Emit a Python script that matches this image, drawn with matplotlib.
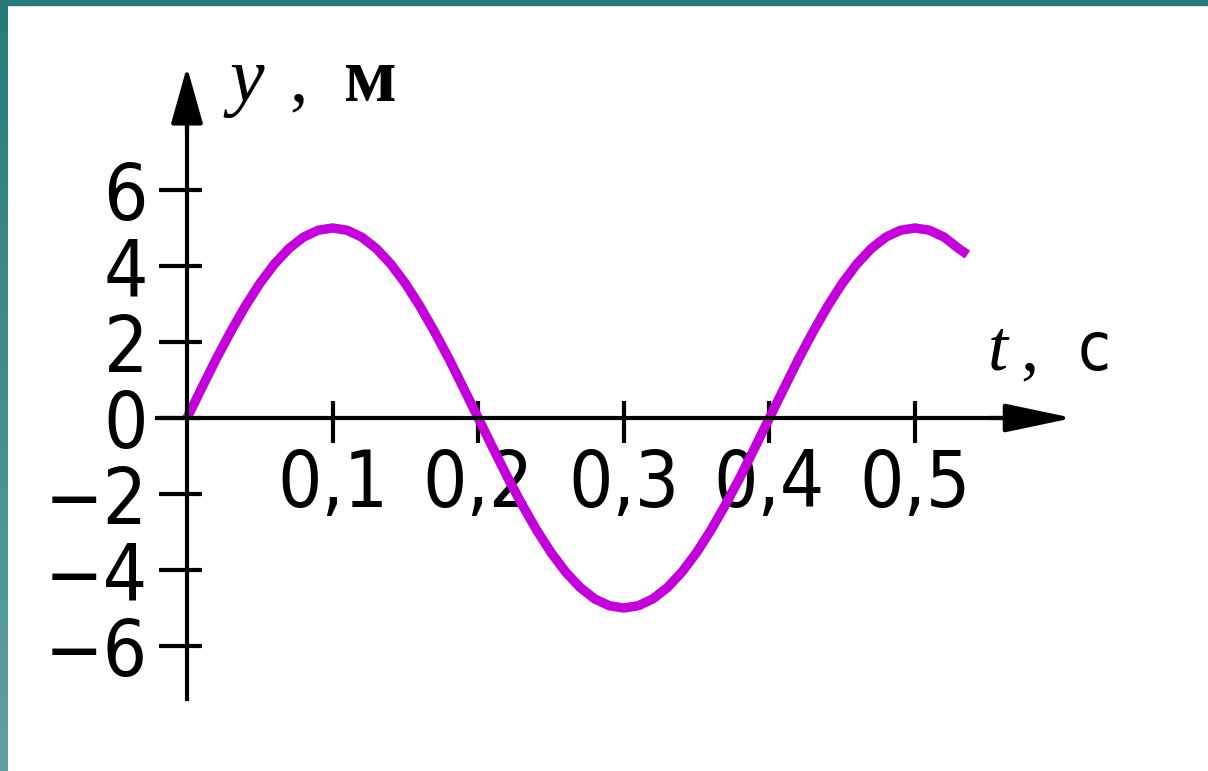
import matplotlib
matplotlib.use("Agg")
import matplotlib.pyplot as plt
import numpy as np

# values
t_pts = [0.00, 0.01, 0.02, 0.03, 0.04, 0.05, 0.06, 0.07, 0.08, 0.09,
         0.10, 0.11, 0.12, 0.13, 0.14, 0.15, 0.16, 0.17, 0.18, 0.19,
         0.20, 0.21, 0.22, 0.23, 0.24, 0.25, 0.26, 0.27, 0.28, 0.29,
         0.30, 0.31, 0.32, 0.33, 0.34, 0.35, 0.36, 0.37, 0.38, 0.39,
         0.40, 0.41, 0.42, 0.43, 0.44, 0.45, 0.46, 0.47, 0.48, 0.49,
         0.50, 0.51, 0.52, 0.53, 0.536]
y_pts = [0.00, 0.78, 1.55, 2.27, 2.94, 3.54, 4.05, 4.46, 4.76, 4.94,
         5.00, 4.94, 4.76, 4.46, 4.05, 3.54, 2.94, 2.27, 1.55, 0.78,
         0.00, -0.78, -1.55, -2.27, -2.94, -3.54, -4.05, -4.46, -4.76, -4.94,
         -5.00, -4.94, -4.76, -4.46, -4.05, -3.54, -2.94, -2.27, -1.55, -0.78,
         0.00, 0.78, 1.55, 2.27, 2.94, 3.54, 4.05, 4.46, 4.76, 4.94,
         5.00, 4.94, 4.76, 4.46, 4.30]

x_ticks = [0.1, 0.2, 0.3, 0.4, 0.5]
x_labels = ["0,1", "0,2", "0,3", "0,4", "0,5"]
y_ticks = [-6, -4, -2, 0, 2, 4, 6]
y_labels = ["\u22126", "\u22124", "\u22122", "0", "2", "4", "6"]

W, H = 1208, 771
fig = plt.figure(figsize=(W / 100, H / 100), dpi=100)
fig.patch.set_facecolor("white")

# slide frame (teal band top and left)
frame = fig.add_axes([0, 0, 8 / W, 1])
frame.imshow(np.linspace(0, 1, 50).reshape(-1, 1),
             cmap=matplotlib.colors.LinearSegmentedColormap.from_list("f", ["#5fa19f", "#277b7b"]),
             aspect="auto", extent=[0, 1, 0, 1], origin="lower")
frame.axis("off")
fig.patches.append(plt.Rectangle((0, 1 - 5 / H), 1, 5 / H, transform=fig.transFigure,
                                 color="#277b7b", zorder=5))

# axes: 0 at pixel (187, 418); 1456 px per s, 38 px per unit
ax = fig.add_axes([0, 0, 1, 1])
ax.set_facecolor("none")
ax.set_xlim(-187 / 1456, (W - 187) / 1456)
ax.set_ylim(-(H - 418) / 38, 418 / 38)

for s in ["top", "right"]:
    ax.spines[s].set_visible(False)
ax.spines["left"].set_position(("data", 0))
ax.spines["bottom"].set_position(("data", 0))
ax.spines["left"].set_bounds(-7.4, 8.0)
ax.spines["bottom"].set_bounds(-0.0206, 0.56)
ax.spines["left"].set_linewidth(3)
ax.spines["bottom"].set_linewidth(3)

ax.annotate("", xy=(0, 9.24), xytext=(0, 7.5),
            arrowprops=dict(arrowstyle="-|>,head_length=1.6,head_width=0.45", color="black",
                            lw=3, mutation_scale=22, shrinkA=0, shrinkB=0))
ax.annotate("", xy=(0.6085, 0), xytext=(0.55, 0),
            arrowprops=dict(arrowstyle="-|>,head_length=1.9,head_width=0.4", color="black",
                            lw=3, mutation_scale=22, shrinkA=0, shrinkB=0))

ax.plot(t_pts, y_pts, color="#c400da", lw=6.8, solid_capstyle="butt", solid_joinstyle="round")

tick_font = dict(family="DejaVu Sans", stretch="condensed", size=56)
ax.set_xticks(x_ticks)
ax.set_xticklabels(x_labels, fontdict=tick_font)
ax.set_yticks(y_ticks)
ax.set_yticklabels(y_labels, fontdict=tick_font)
ax.xaxis.remove_overlapping_locs = False
ax.yaxis.remove_overlapping_locs = False
ax.set_xticks(x_ticks, minor=True)
ax.set_yticks(y_ticks, minor=True)
ax.tick_params(axis="x", which="major", direction="out", length=18, width=3, pad=3)
ax.tick_params(axis="x", which="minor", direction="in", length=12, width=3)
ax.tick_params(axis="y", which="major", direction="out", length=20, width=3, pad=8)
ax.tick_params(axis="y", which="minor", direction="in", length=11, width=3)

# axis titles
ax.text(0.029, 8.35, "y", family="Liberation Serif", style="italic", size=56, va="baseline", ha="left")
ax.text(0.07, 8.35, ",", family="Liberation Serif", size=52, va="baseline", ha="left")
ax.text(0.108, 8.35, "\u043c", family="Liberation Serif", weight="bold", size=56, va="baseline", ha="left")
ax.text(0.550, 1.27, "t", family="Liberation Serif", style="italic", size=52, va="baseline", ha="left")
ax.text(0.572, 1.27, ",", family="Liberation Serif", size=52, va="baseline", ha="left")
ax.text(0.612, 1.27, "\u0441", family="DejaVu Sans", stretch="condensed", size=48, va="baseline", ha="left")

fig.savefig("out.png", dpi=100)
